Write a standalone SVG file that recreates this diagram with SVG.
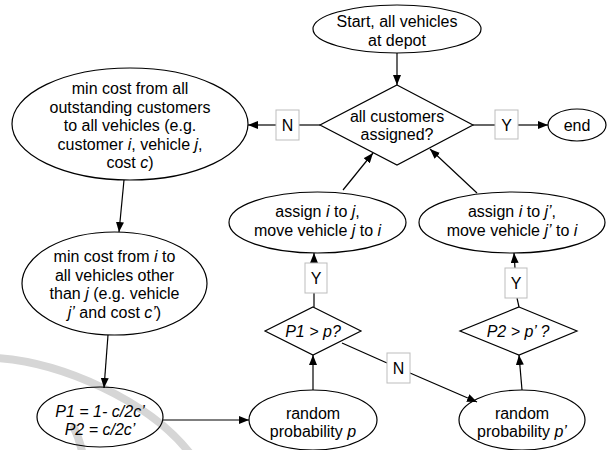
<svg xmlns="http://www.w3.org/2000/svg" width="611" height="450" viewBox="0 0 611 450">
<defs>
<marker id="ah" viewBox="0 0 10 8" refX="10" refY="4" markerWidth="10" markerHeight="8" markerUnits="userSpaceOnUse" orient="auto">
<path d="M0,0 L10,4 L0,8 Z" fill="#000"/>
</marker>
<style>
.s{fill:none;stroke:#000;stroke-width:1.2}
.t{font-family:"Liberation Sans",Arial,sans-serif;font-size:16px;fill:#000;text-anchor:middle}
.i{font-style:italic}
.c{fill:none;stroke:#000;stroke-width:1.2}
.a{fill:none;stroke:#000;stroke-width:1.2;marker-end:url(#ah)}
.lb{fill:#fff;stroke:#bdbdbd;stroke-width:1}
.wm{fill:none;stroke:#d6d6d6;stroke-width:8;stroke-linecap:round}
</style>
</defs>
<rect width="611" height="450" fill="#fff"/>
<g id="watermark">
<path class="wm" d="M-4,358 C60,362 150,400 192,456"/>
<path class="wm" d="M74,428 Q80,440 83,456"/>
</g>
<g id="connectors">
<line class="a" x1="397" y1="53" x2="397" y2="85"/>
<line class="c" x1="473" y1="125" x2="495" y2="125"/>
<line class="a" x1="518" y1="125" x2="548" y2="125"/>
<line class="c" x1="320" y1="125" x2="299" y2="125"/>
<line class="a" x1="276" y1="125" x2="248" y2="125"/>
<line class="a" x1="124" y1="180" x2="119" y2="232"/>
<line class="a" x1="108" y1="335" x2="104" y2="388"/>
<line class="a" x1="163" y1="420" x2="249" y2="420"/>
<line class="a" x1="313" y1="390" x2="313" y2="355"/>
<line class="c" x1="314" y1="307" x2="314" y2="293"/>
<line class="a" x1="314" y1="263" x2="314" y2="253"/>
<line class="a" x1="522" y1="390" x2="519" y2="355"/>
<line class="c" x1="519" y1="307" x2="517" y2="298"/>
<line class="a" x1="515" y1="268" x2="514" y2="253"/>
<line class="c" x1="342" y1="343" x2="387" y2="363"/>
<line class="a" x1="410" y1="373" x2="477" y2="402"/>
<line class="a" x1="343" y1="190" x2="373" y2="153"/>
<line class="a" x1="477" y1="193" x2="430" y2="149"/>
<g id="labels">
<rect class="lb" x="495" y="110" width="23" height="29"/>
<text class="t" x="506.5" y="131">Y</text>
<rect class="lb" x="276" y="110" width="23" height="30"/>
<text class="t" x="287.5" y="131">N</text>
<rect class="lb" x="305" y="263" width="22" height="30"/>
<text class="t" x="316" y="284">Y</text>
<rect class="lb" x="505" y="268" width="22" height="30"/>
<text class="t" x="516" y="289">Y</text>
<rect class="lb" x="387" y="353" width="23" height="30"/>
<text class="t" x="398.5" y="374">N</text>
</g>
</g>
<g id="start">
<ellipse class="s" cx="397" cy="29" rx="84" ry="24"/>
<text class="t" x="397" y="27">Start, all vehicles</text>
<text class="t" x="397" y="45.5">at depot</text>
</g>
<g id="decision-all">
<polygon class="s" points="397,85 473,125 397,165 320,125"/>
<text class="t" x="397" y="122">all customers</text>
<text class="t" x="397" y="140">assigned?</text>
</g>
<g id="end">
<ellipse class="s" cx="577" cy="125" rx="29" ry="16"/>
<text class="t" x="577" y="131">end</text>
</g>
<g id="min-cost-all">
<ellipse class="s" cx="130" cy="124" rx="118" ry="56"/>
<text class="t" x="130" y="94">min cost from all</text>
<text class="t" x="130" y="112.5">outstanding customers</text>
<text class="t" x="130" y="131">to all vehicles (e.g.</text>
<text class="t" x="130" y="149.5">customer <tspan class="i">i</tspan>, vehicle <tspan class="i">j</tspan>,</text>
<text class="t" x="130" y="168">cost <tspan class="i">c</tspan>)</text>
</g>
<g id="min-cost-i">
<ellipse class="s" cx="114.5" cy="283.5" rx="92.5" ry="51.5"/>
<text class="t" x="114.5" y="262">min cost from <tspan class="i">i</tspan> to</text>
<text class="t" x="114.5" y="280.5">all vehicles other</text>
<text class="t" x="114.5" y="299">than <tspan class="i">j</tspan> (e.g. vehicle</text>
<text class="t" x="114.5" y="317.5"><tspan class="i">j’</tspan> and cost <tspan class="i">c’</tspan>)</text>
</g>
<g id="probabilities">
<ellipse class="s" cx="100" cy="417" rx="63" ry="30"/>
<text class="t i" x="100" y="417">P1 = 1- c/2c’</text>
<text class="t i" x="100" y="435">P2 = c/2c’</text>
</g>
<g id="random-p">
<ellipse class="s" cx="313" cy="420" rx="64" ry="30"/>
<text class="t" x="313" y="419">random</text>
<text class="t" x="313" y="437">probability <tspan class="i">p</tspan></text>
</g>
<g id="decision-p1">
<polygon class="s" points="313,307 361,331 313,355 265,331"/>
<text class="t i" x="313" y="337">P1 &gt; p?</text>
</g>
<g id="assign-j">
<ellipse class="s" cx="317.5" cy="222.5" rx="88.5" ry="30.5"/>
<text class="t" x="317.5" y="217">assign <tspan class="i">i</tspan> to <tspan class="i">j</tspan>,</text>
<text class="t" x="317.5" y="235.5">move vehicle <tspan class="i">j</tspan> to <tspan class="i">i</tspan></text>
</g>
<g id="assign-j2">
<ellipse class="s" cx="512" cy="222.5" rx="93" ry="30.5"/>
<text class="t" x="512" y="217">assign <tspan class="i">i</tspan> to <tspan class="i">j’</tspan>,</text>
<text class="t" x="512" y="235.5">move vehicle <tspan class="i">j’</tspan> to <tspan class="i">i</tspan></text>
</g>
<g id="decision-p2">
<polygon class="s" points="519,307 577,331 519,355 460,331"/>
<text class="t i" x="518" y="337">P2 &gt; p’ ?</text>
</g>
<g id="random-p2">
<ellipse class="s" cx="522" cy="420" rx="63" ry="30"/>
<text class="t" x="522" y="419">random</text>
<text class="t" x="522" y="437">probability <tspan class="i">p’</tspan></text>
</g>
</svg>
